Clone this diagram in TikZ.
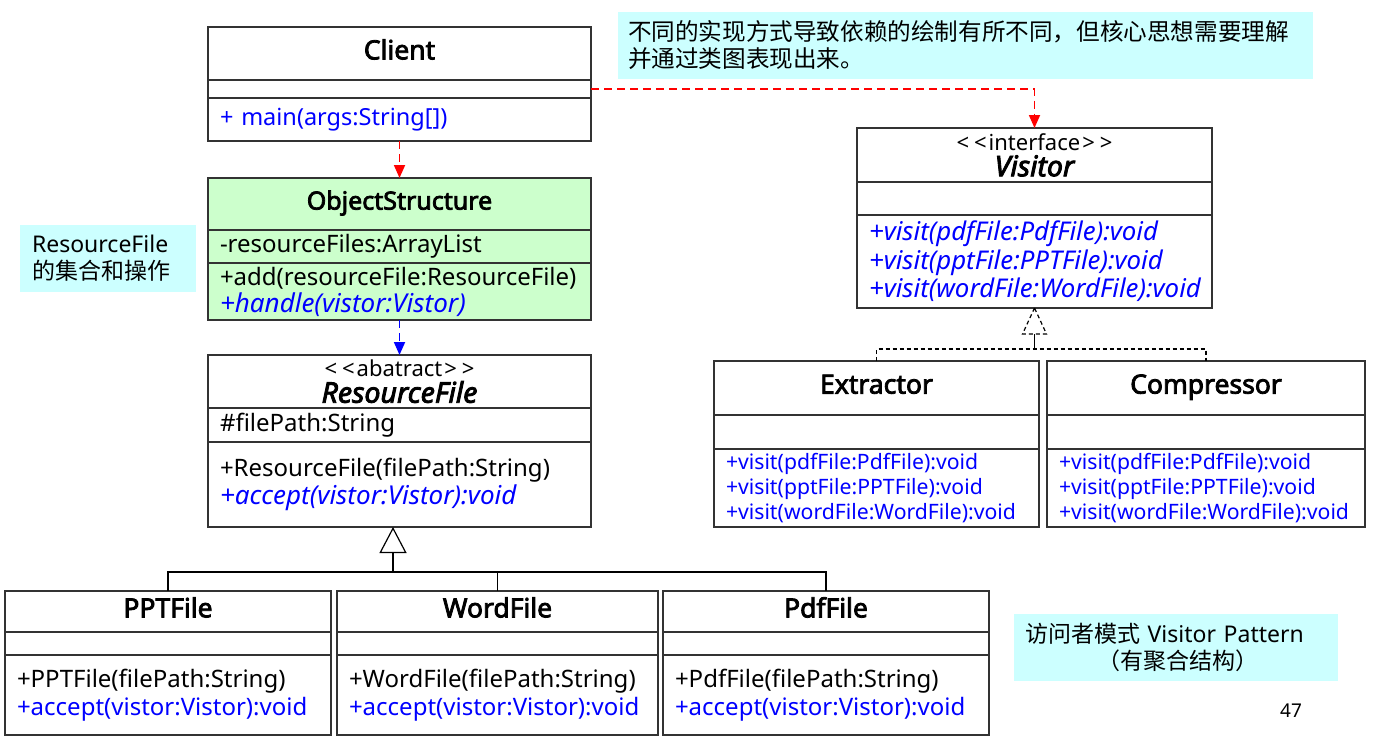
\documentclass[tikz,border=0pt]{standalone}
\usepackage{fontspec}
\setmainfont{Noto Sans}
\newfontfamily\namefont{Noto Sans}[FakeBold=3]
\newfontfamily\cjk{Noto Sans CJK SC}
\usetikzlibrary{positioning, arrows.meta, calc}
\definecolor{umlblue}{HTML}{0000FF}
\definecolor{umlred}{HTML}{FF0000}
\definecolor{structbg}{HTML}{CCFFCC}
\definecolor{notebg}{HTML}{CCFFFF}
\definecolor{umlline}{HTML}{333333}
\newcommand{\stereotype}[1]{<\hspace{5pt}<\hspace{2pt}#1\hspace{2pt}>\hspace{5pt}>}
\newcommand{\abstractop}[1]{{\color{umlblue}\fontsize{26}{27}\selectfont\itshape #1}}

\begin{document}
\begin{tikzpicture}[x=1pt, y=-1pt,
    every node/.style={inner sep=0pt, outer sep=0pt, font=\fontsize{24}{28}\selectfont},
    box/.style={draw=umlline, line width=1.4pt, minimum height=#1, inner xsep=12pt, align=left},
    hdr/.style={box=#1, align=center, font=\fontsize{26.5}{28}\selectfont\namefont,
                execute at begin node=\strut},
    stereo/.style={box=#1, align=center, font=\fontsize{22}{26}\selectfont},
    wclient/.style={text width=359pt},
    wvisitor/.style={text width=331pt},
    wext/.style={text width=301pt},
    wcmp/.style={text width=294pt},
    wfile/.style={text width=302pt},
    wword/.style={text width=297pt},
    note/.style={fill=notebg, anchor=north west, inner xsep=10pt, align=left,
                 font=\fontsize{23}{27}\selectfont},
    dep/.style={dash pattern=on 8pt off 5pt, line width=1.8pt,
                -{Triangle[length=13pt, width=11pt]}},
    gen/.style={line width=1.2pt},
    real/.style={line width=1.2pt, dash pattern=on 4pt off 3pt}
]
    \useasboundingbox (0,0) rectangle (1373,742);

    % Client
    \node[hdr=53, wclient] (client) at (399.5,53.5) {Client};
    \node[box=18, wclient, below=0pt of client] (client-a) {};
    \node[box=43, wclient, below=0pt of client-a, font=\fontsize{23.5}{28}\selectfont] (client-m)
        {\color{umlblue}+ main(args:String[])};

    % ObjectStructure
    \node[hdr=52, wclient, fill=structbg, font=\fontsize{25}{28}\selectfont\namefont] (objs)
        at (399.5,204) {ObjectStructure};
    \node[box=33, wclient, fill=structbg, below=0pt of objs] (objs-a)
        {-resourceFiles:ArrayList};
    \node[box=57, wclient, fill=structbg, below=0pt of objs-a,
          font=\fontsize{24}{27}\selectfont] (objs-m)
        {+add(resourceFile:ResourceFile)\\\abstractop{+handle(vistor:Vistor)}};

    % ResourceFile
    \node[stereo=53, wclient] (res) at (399.5,381.5)
        {\stereotype{abatract}\\{\fontsize{28.5}{26}\selectfont\namefont\itshape ResourceFile}};
    \node[box=34, wclient, below=0pt of res] (res-a) {\#filePath:String};
    \node[box=85, wclient, below=0pt of res-a] (res-m)
        {+ResourceFile(filePath:String)\\\abstractop{+accept(vistor:Vistor):void}};

    % concrete files
    \node[hdr=41, wfile] (ppt) at (168,611.5) {PPTFile};
    \node[box=23, wfile, below=0pt of ppt] (ppt-a) {};
    \node[box=80, wfile, below=0pt of ppt-a] (ppt-m)
        {+PPTFile(filePath:String)\\{\color{umlblue}+accept(vistor:Vistor):void}};

    \node[hdr=41, wword] (word) at (497.5,611.5) {WordFile};
    \node[box=23, wword, below=0pt of word] (word-a) {};
    \node[box=80, wword, below=0pt of word-a] (word-m)
        {+WordFile(filePath:String)\\{\color{umlblue}+accept(vistor:Vistor):void}};

    \node[hdr=41, wfile] (pdf) at (826,611.5) {PdfFile};
    \node[box=23, wfile, below=0pt of pdf] (pdf-a) {};
    \node[box=80, wfile, below=0pt of pdf-a] (pdf-m)
        {+PdfFile(filePath:String)\\{\color{umlblue}+accept(vistor:Vistor):void}};

    % Visitor
    \node[stereo=54, wvisitor] (vis) at (1034.5,155)
        {\stereotype{interface}\\{\fontsize{28.5}{26}\selectfont\namefont\itshape Visitor}};
    \node[box=33, wvisitor, below=0pt of vis] (vis-a) {};
    \node[box=93, wvisitor, below=0pt of vis-a, font=\fontsize{25.8}{28.5}\selectfont] (vis-m)
        {\color{umlblue}\itshape +visit(pdfFile:PdfFile):void\\
         +visit(pptFile:PPTFile):void\\+visit(wordFile:WordFile):void};

    % concrete visitors
    \node[hdr=54, wext] (ext) at (876.5,388) {Extractor};
    \node[box=34, wext, below=0pt of ext] (ext-a) {};
    \node[box=78, wext, below=0pt of ext-a, font=\fontsize{21.2}{25}\selectfont] (ext-m)
        {\color{umlblue}+visit(pdfFile:PdfFile):void\\
         +visit(pptFile:PPTFile):void\\+visit(wordFile:WordFile):void};

    \node[hdr=54, wcmp] (cmp) at (1206,388) {Compressor};
    \node[box=34, wcmp, below=0pt of cmp] (cmp-a) {};
    \node[box=78, wcmp, below=0pt of cmp-a, font=\fontsize{21.2}{25}\selectfont] (cmp-m)
        {\color{umlblue}+visit(pdfFile:PdfFile):void\\
         +visit(pptFile:PPTFile):void\\+visit(wordFile:WordFile):void};

    % notes
    \node[note, text width=675pt, minimum height=67pt, font=\fontsize{23.6}{27}\selectfont]
        (note-top) at (618,12)
        {\cjk 不同的实现方式导致依赖的绘制有所不同，但核心思想需要理解\\并通过类图表现出来。};
    \node[note, text width=152pt, inner xsep=12pt, minimum height=67pt] (note-res) at (20,225)
        {ResourceFile\\{\cjk 的集合和操作}};
    \node[note, text width=302pt, inner xsep=11pt, minimum height=67pt] (note-pat) at (1014,614)
        {{\cjk 访问者模式} Visitor Pattern\\\hspace*{72pt}{\cjk （有聚合结构）}};
    \node[font=\fontsize{19}{22}\selectfont] (page) at (1291,711) {47};

    % dependencies
    \draw[dep, umlred] (client-m.south) -- (objs.north);
    \draw[dep, umlblue] (objs-m.south) -- (res.north);
    \draw[dep, umlred] (client-a.east) -| (vis.north);

    % generalization
    \coordinate (gen-tip) at ($(res-m.south)+(-6.5,0)$);
    \coordinate (gen-joint) at ($(gen-tip)+(0,45)$);
    \draw[gen, -{Triangle[open, length=26pt, width=27pt]}] (gen-joint) -- (gen-tip);
    \draw[gen] (ppt.north) |- (gen-joint) -| (pdf.north);
    \draw[gen] (word.north) |- (gen-joint);

    % realization
    \coordinate (real-tip) at (vis-m.south);
    \coordinate (real-base) at ($(real-tip)+(0,26)$);
    \coordinate (real-joint) at ($(real-tip)+(0,41)$);
    \draw[real] (real-tip) -- ++(-12,26) -- ++(24,0) -- cycle;
    \draw[gen] (real-base) -- (real-joint);
    \draw[real] (ext.north) |- (real-joint) -| (cmp.north);
\end{tikzpicture}
\end{document}
